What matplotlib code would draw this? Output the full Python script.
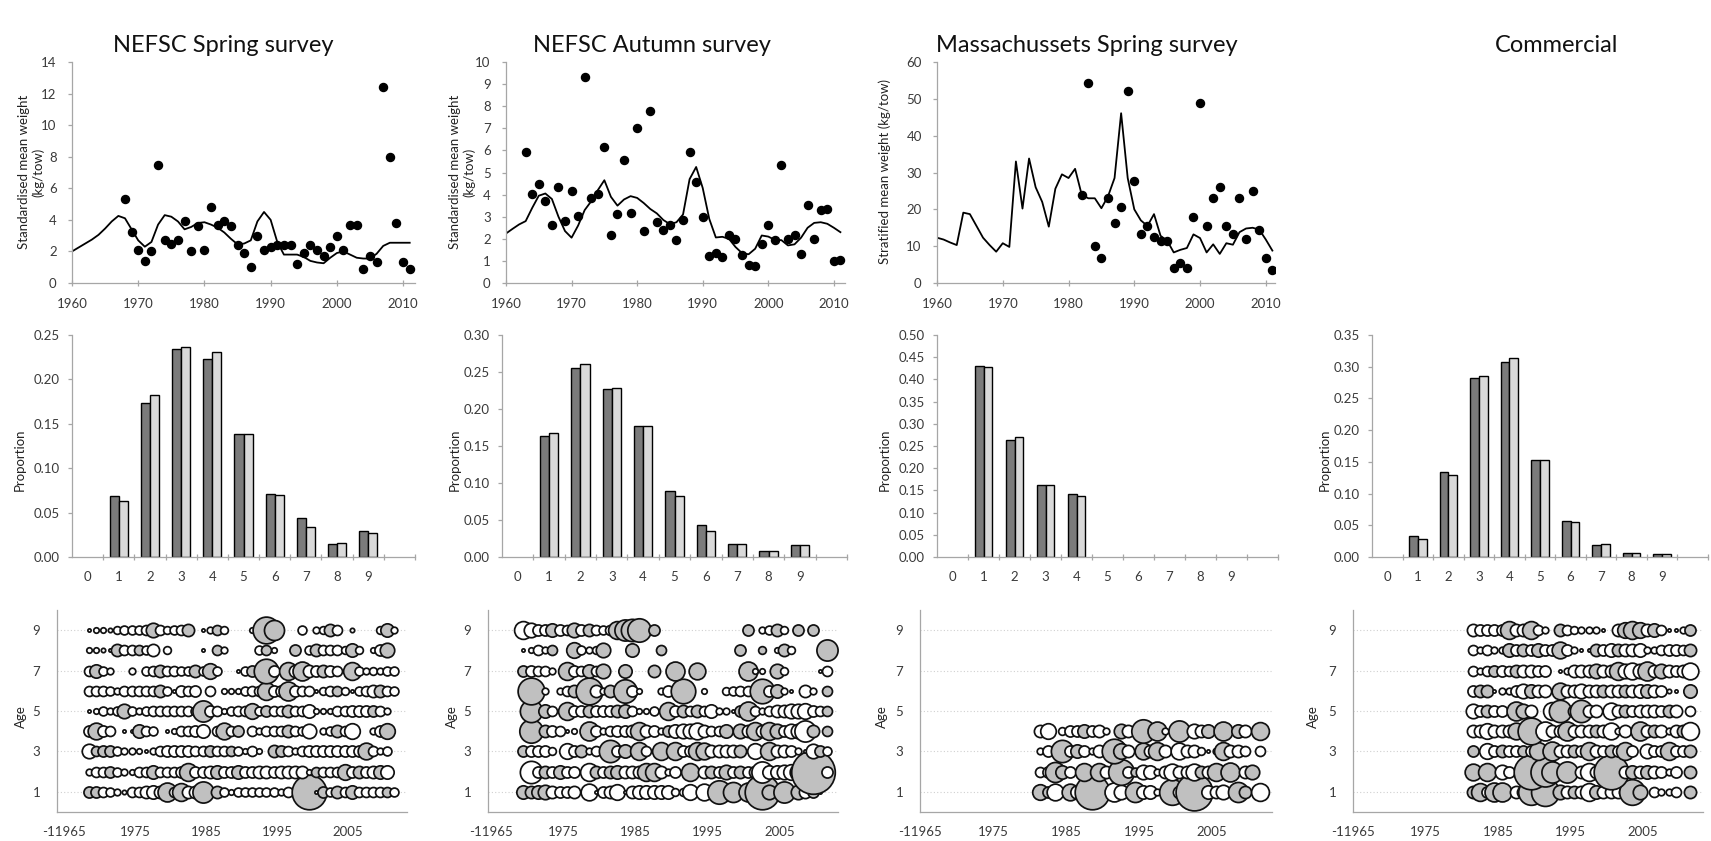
import matplotlib
matplotlib.use("Agg")
import matplotlib.pyplot as plt
import numpy as np

plt.rcParams['font.family'] = ['Lato', 'DejaVu Sans']

# ---------------- DATA ----------------
titles = ["NEFSC Spring survey", "NEFSC Autumn survey", "Massachussets Spring survey", "Commercial"]

line_years = list(range(1960, 2012))
spring_line = [2.0, 2.25, 2.5, 2.75, 3.05, 3.45, 3.9, 4.25, 4.1, 3.4, 2.7, 2.3, 2.6, 3.7, 4.3, 4.2, 3.9, 3.4,
               3.55, 3.8, 3.85, 3.7, 3.5, 3.2, 2.8, 2.45, 2.5, 2.7, 3.9, 4.5, 4.0, 2.6, 1.8, 1.8, 1.8, 1.65,
               1.4, 1.3, 1.25, 1.6, 1.9, 2.0, 1.8, 1.6, 1.55, 1.55, 1.85, 2.35, 2.55, 2.55, 2.55, 2.55]
autumn_line = [2.24, 2.45, 2.65, 2.8, 3.4, 3.95, 4.05, 3.8, 3.0, 2.35, 2.05, 2.6, 3.3, 3.7, 4.2, 4.65, 3.9, 3.5,
               3.78, 3.93, 3.85, 3.62, 3.35, 3.15, 2.85, 2.66, 2.75, 3.1, 4.7, 5.25, 4.3, 2.9, 2.06, 2.09, 2.0,
               1.63, 1.35, 1.3, 1.55, 2.15, 2.1, 1.95, 1.94, 1.7, 1.75, 2.05, 2.5, 2.72, 2.75, 2.68, 2.5, 2.3]
mass_line = [12.3, 11.8, 11.0, 10.3, 19.1, 18.7, 15.5, 12.3, 10.3, 8.5, 10.8, 9.8, 33.0, 20.2, 33.8, 26.0,
             22.0, 15.3, 25.6, 29.5, 28.5, 31.0, 24.0, 23.0, 23.0, 20.3, 23.5, 28.5, 46.1, 28.5, 20.0, 17.0,
             15.5, 18.7, 12.8, 11.5, 8.3, 9.0, 9.5, 13.2, 12.2, 8.3, 10.5, 7.9, 10.8, 10.4, 13.8, 14.8, 15.0,
             14.5, 11.8, 8.8]

spring_pt_years = list(range(1968, 2012))
spring_pts = [5.3, 3.2, 2.1, 1.4, 2.0, 7.5, 2.7, 2.5, 2.7, 3.9, 2.0, 3.6, 2.1, 4.8, 3.7, 3.9, 3.6, 2.4, 1.9,
              1.0, 3.0, 2.1, 2.3, 2.4, 2.4, 2.4, 1.2, 1.9, 2.4, 2.1, 1.7, 2.3, 3.0, 2.1, 3.7, 3.7, 0.9, 1.7,
              1.3, 12.4, 8.0, 3.8, 1.3, 0.9]
autumn_pt_years = list(range(1963, 2012))
autumn_pts = [5.95, 4.02, 4.5, 3.72, 2.62, 4.36, 2.8, 4.17, 3.03, 9.3, 3.83, 4.02, 6.17, 2.15, 3.1, 5.57,
              3.15, 7.0, 2.36, 7.8, 2.77, 2.42, 2.62, 1.94, 2.87, 5.95, 4.55, 3.0, 1.23, 1.36, 1.18, 2.16,
              2.0, 1.26, 0.83, 0.79, 1.78, 2.62, 1.94, 5.34, 1.98, 2.16, 1.3, 3.53, 1.97, 3.3, 3.35, 1.0, 1.03]
mass_pt_years = list(range(1982, 2012))
mass_pts = [24.0, 54.3, 10.1, 6.8, 23.0, 16.4, 20.5, 52.2, 27.7, 13.2, 15.5, 12.5, 11.4, 11.4, 4.1, 5.35,
            4.1, 17.8, 48.8, 15.5, 23.0, 26.1, 15.5, 13.2, 23.1, 11.9, 25.0, 14.3, 6.8, 3.4]

ages = list(range(0, 10))
age_labels = [str(a) for a in ages]
spring_obs = [0, 0.0688, 0.1737, 0.234, 0.2226, 0.1387, 0.0707, 0.0436, 0.015, 0.029]
spring_pred = [0, 0.0635, 0.1823, 0.237, 0.2305, 0.1387, 0.070, 0.0338, 0.0162, 0.0267]
autumn_obs = [0, 0.163, 0.255, 0.227, 0.177, 0.0889, 0.0433, 0.018, 0.0086, 0.0167]
autumn_pred = [0, 0.167, 0.261, 0.229, 0.177, 0.083, 0.035, 0.018, 0.0086, 0.0167]
mass_obs = [0, 0.431, 0.263, 0.162, 0.141, 0, 0, 0, 0, 0]
mass_pred = [0, 0.4286, 0.270, 0.1617, 0.138, 0, 0, 0, 0, 0]
comm_obs = [0, 0.0326, 0.1335, 0.2817, 0.308, 0.1536, 0.0563, 0.019, 0.0065, 0.0047]
comm_pred = [0, 0.0285, 0.129, 0.286, 0.313, 0.1536, 0.055, 0.0207, 0.0065, 0.004]

# bubble residuals: +grey / -white, magnitude = relative bubble diameter; rows = ages 1..9
spring_bub_years = list(range(1968, 2012))
spring_bub = [
    [9, 9, -8, -7, -5, -3, -8, -8, -10, -11, -10, 16, -8, 15, -10, -10, 18, 0, 10, -7, -4, -7, -7, -7, -7, -7, -7, -5, -8, 0, 0, 30, -2, 9, -7, 10, -8, 11, -8, -8, -8, -8, 8, -7],
    [-5, -8, -8, 9, -7, -5, -4, -8, -8, 11, -8, -8, -8, -9, 15, -9, -9, -10, 11, -9, -9, 11, -9, -9, -10, -10, -9, -10, -10, -10, -10, -4, 8, -8, -8, -8, 13, -9, 10, -9, -10, 11, -11, 0],
    [-12, 8, 9, 9, -7, -5, -5, -4, -2, -5, -8, -9, -9, -9, -9, -8, -8, 9, -8, -8, 8, -7, -4, -8, -4, 0, 10, 9, -8, -5, -8, -9, -9, -9, -9, -9, -9, -9, -9, 14, -8, -5, -7, 0],
    [-9, 14, -9, -8, 0, -2, -2, 11, -8, -7, 0, -2, -4, -8, -8, -9, -11, 0, -8, 14, -8, 9, 0, -8, -5, -8, -8, -8, 10, -8, -7, -12, 0, -5, -7, 10, -8, -13, 0, 0, -5, -9, 13, 0],
    [-2, -4, -7, -5, -7, 12, -7, -5, -7, -8, -8, -8, -8, -8, -8, -7, 18, -9, -8, -4, -7, -8, -8, 13, -7, 9, -8, -8, 10, -8, -8, -11, -4, -4, -4, -8, -8, -9, -9, -9, 9, -8, -5, 0],
    [-8, -8, -8, -7, -5, -8, -8, -8, -8, -8, 10, -7, -2, -9, -8, -9, 0, -8, 0, -4, -4, -4, -7, -8, -8, 15, -9, -9, 16, -9, -8, -8, -2, -6, -8, 8, -6, -2, -7, -8, -10, 10, -8, -7],
    [-8, 11, -7, -5, 0, 0, -5, 0, -7, -8, 10, -8, -8, -7, -7, 10, -7, 13, -7, 0, 0, -2, -7, 9, 0, 21, -9, 0, 15, -10, 16, -10, -9, 10, -9, -8, 0, 15, -7, -5, -6, -5, -7, -7],
    [-4, -4, -3, -2, 10, -8, -8, 8, -7, -10, 0, -6, 0, 0, 0, 0, -2, 0, 8, -5, 0, 0, 0, 0, -7, 8, -4, 0, 0, 9, 0, -7, 10, -8, -8, -8, -6, 11, -6, 0, -4, -9, 12, 0],
    [-2, -4, -4, -3, -6, -7, -7, -7, -8, 12, -8, -6, -7, -8, 10, 0, -2, -5, 8, -6, 0, 0, 0, -4, 0, 23, 17, 0, 0, 0, -7, 0, -5, -6, 10, -8, 0, -3, 0, 0, 0, -6, 11, -5],
]
autumn_bub_years = list(range(1969, 2012))
autumn_bub = [
    [11, 10, 11, 12, -10, -9, -9, -10, 0, -14, -2, -9, -10, -13, -2, -10, -11, -11, -11, -11, -11, -6, -6, -13, 0, -14, 0, 20, 0, 17, 0, 16, 0, 30, 12, 0, 18, 0, 12, -10, 9, -2, 0],
    [0, -19, -9, 10, -9, 11, -9, -9, 0, -15, 10, -9, 10, 11, -10, -10, -10, 15, 15, -10, -5, -9, 0, 15, 0, -10, 10, -9, 12, -9, 10, -9, 10, -18, -11, -11, -12, -13, -14, 0, 38, 0, -9],
    [9, -9, -9, -9, -6, 0, -13, -9, 10, -5, -8, 0, 19, -9, 11, 0, 15, -8, 0, 15, 0, 15, -9, -9, 15, 14, -10, -10, -10, -10, 10, 0, -13, 0, 15, -10, -10, -9, -5, -2, -12, 9, -7],
    [0, 20, 0, 10, -9, -8, -2, -4, 0, 16, -9, -5, -8, -9, -9, -10, 15, -10, -9, -5, 9, -11, -12, -12, -14, -10, -8, -8, 11, 0, 12, -10, 15, -10, 15, 12, -9, -12, -12, -18, 10, 0, 8],
    [0, 19, 0, 11, -8, 0, 15, -9, -9, 10, -9, -9, -9, 10, 11, -8, -4, -4, -7, 0, 15, -9, 10, -8, 10, -8, -11, -5, -5, -2, 9, 16, -8, -5, -8, -10, -10, -12, -12, -13, -9, -8, 8],
    [0, 23, 0, -5, 0, -5, -8, 10, 0, 23, -10, -5, 10, 0, 20, -9, -4, 0, 0, -5, -9, 0, 21, 0, 0, -4, 0, 0, -6, -7, -8, -8, 0, 21, -9, 11, -5, -2, 0, -10, -5, 0, 8],
    [9, -9, -8, -8, -5, 0, 15, -9, -8, 11, -8, 12, 0, 0, 11, 0, 0, 0, 10, 0, 0, 16, 0, 0, 14, 0, 0, 0, 0, 0, 0, 16, -4, -4, 0, 12, -6, 0, 0, 0, 0, -2, -8],
    [-2, -4, -8, -5, 8, 0, 0, 13, -7, -5, -6, 12, 0, 0, 0, 11, 0, 0, 0, 8, 0, 0, 0, 0, 0, 0, 0, 0, 0, 0, 9, 0, 0, 6, 0, -4, 10, -6, 0, 0, 0, 0, 18],
    [-15, -12, -9, -9, 11, -9, -8, 12, -9, 10, -8, -7, -8, 15, 18, 19, 20, 0, 9, 0, 0, 0, 0, 0, 0, 0, 0, 0, 0, 0, 0, 9, 0, -5, -7, 10, -6, 0, 9, 0, 9, 0, 0],
]
mass_bub_years = list(range(1981, 2012))
mass_bub = [
    [13, 9, -14, 0, 14, -11, 0, 30, 0, 0, -16, -12, 0, 17, -11, -11, -5, 0, 22, -10, 0, 32, 0, -11, -10, -12, 0, 17, 10, 0, -15],
    [-8, -9, 17, 11, -9, 0, 15, 0, 15, -10, 0, 22, -9, 7, -12, -11, -5, -10, -14, -10, -10, -14, 10, -10, 15, 0, 16, 0, -10, 12, 0],
    [-5, -9, 0, 19, -9, 11, -9, -5, -10, 0, 21, 13, -10, 0, 14, -10, 15, -10, 0, -14, -10, -10, -6, -2, -5, 15, -10, -10, -8, 0, -8],
    [-10, -13, 0, -6, -9, -9, 11, -9, -10, -5, 0, 12, -10, 0, 20, 0, 16, -5, 0, 18, 0, -12, -10, 11, 0, 16, 0, 11, -10, 0, 15],
]
comm_bub_years = list(range(1981, 2012))
comm_bub = [
    [10, 15, -9, 16, 16, 0, -10, -10, 22, -10, 24, 0, 12, -10, 10, -10, -15, 11, -10, -10, -10, -10, 22, 12, 0, -8, -5, -5, -8, 0, 10],
    [14, 0, 15, 0, -12, -9, 0, 0, 30, 0, 25, 18, 0, 18, 0, -10, -15, -10, 0, 30, 0, -10, 11, -10, 11, -10, -9, -5, -9, 0, 10],
    [9, 0, -13, -9, 10, -9, -9, 9, -9, 15, 0, 16, -10, -10, 10, -9, 15, -10, -9, 10, -9, 15, -9, 0, -12, -9, -9, 15, -9, -9, 10],
    [-10, -10, -13, -10, -10, -10, 14, 0, 23, 0, -16, -10, -10, 16, -10, -10, -10, 10, -10, -14, -5, -10, 0, 16, -10, 10, -10, -5, -10, 10, -15],
    [-12, -9, 10, -9, -9, 0, 16, 12, -10, 0, 0, -15, 19, 0, -10, 19, -10, -10, 0, -14, -10, 10, -9, -10, -10, -10, -9, 10, -10, 0, -8],
    [-9, 10, 10, -2, -5, -5, -9, -12, 11, -10, -10, 0, 14, -10, -10, -12, -10, -10, 10, -10, -10, 10, -10, -11, 11, -10, -9, -3, -2, 0, 11],
    [-8, -5, -8, 9, -9, -8, 10, -10, -10, -9, -9, 0, -2, -5, -10, -10, -10, 12, -10, -10, 15, -12, -14, -12, 16, -10, 12, -10, -9, -10, -14],
    [-8, -5, -8, -5, -5, 11, -9, 10, -9, 11, -9, -9, 14, -9, -5, -2, -2, 10, -9, -11, 10, -10, -10, -11, -5, -5, -8, -9, -9, -8, 10],
    [-10, -9, -9, -9, -9, 15, -10, -10, 15, -8, -5, 0, 10, -8, -6, -5, -5, -5, -2, 0, -10, 13, 15, 13, -10, 11, -8, -2, -2, -5, 9],
]
bub_tick_labels = ["-11965", "1975", "1985", "1995", "2005"]

# ---------------- FIGURE ----------------
W, H = 1711, 841
fig = plt.figure(figsize=(W / 100, H / 100), dpi=100)
AX = '#a6a6a6'
TXT = '#3a3a3a'


def add_ax(x0, x1, y0, y1):
    return fig.add_axes([x0 / W, 1 - y1 / H, (x1 - x0) / W, (y1 - y0) / H])


def style(ax):
    for s in ['top', 'right']:
        ax.spines[s].set_visible(False)
    for s in ['left', 'bottom']:
        ax.spines[s].set_color(AX)
        ax.spines[s].set_linewidth(0.9)
    ax.tick_params(which='both', color=AX, labelcolor=TXT, labelsize=9.5, width=0.9)


def ylab(x, y, s):
    fig.text(x / W, 1 - y / H, s, rotation=90, ha='center', va='center', fontsize=9.5, color='#222222',
             linespacing=1.2)


# titles
for x, t in zip([223, 652, 1087, 1557], titles):
    fig.text(x / W, 1 - 45 / H, t, ha='center', va='center', fontsize=17, color='#111111')

# ---- row 1: time series ----
row1 = [
    ((72, 415), 2011.8, spring_line, spring_pt_years, spring_pts, 14, 2, "Standardised mean weight\n(kg/tow)", 31),
    ((506, 845), 2011.7, autumn_line, autumn_pt_years, autumn_pts, 10, 1, "Standardised mean weight\n(kg/tow)", 462),
    ((937, 1275), 2011.4, mass_line, mass_pt_years, mass_pts, 60, 10, "Stratified mean weight (kg/tow)", 885),
]
for (xs, xr, ln, py, pv, ymax, ystep, lab, lx) in row1:
    ax = add_ax(xs[0], xs[1], 62, 283)
    style(ax)
    ax.plot(line_years, ln, color='black', lw=1.3)
    ax.plot(py, pv, 'o', color='black', ms=5.8, mec='black')
    ax.set_xlim(1960, xr)
    ax.set_ylim(0, ymax)
    ax.set_yticks(np.arange(0, ymax + ystep / 2, ystep))
    ax.set_xticks(range(1960, 2011, 10))
    ax.tick_params(axis='x', direction='inout', length=5, pad=8)
    ax.tick_params(axis='y', direction='out', length=3, pad=8)
    ylab(lx, 172, lab)

# ---- row 2: bar charts ----
row2 = [
    ((72, 415), spring_obs, spring_pred, 0.25, 20),
    ((502, 847), autumn_obs, autumn_pred, 0.30, 455),
    ((937, 1278), mass_obs, mass_pred, 0.50, 885),
    ((1372, 1708), comm_obs, comm_pred, 0.35, 1325),
]
bw = 0.29
for (xs, obs, pred, ymax, lx) in row2:
    ax = add_ax(xs[0], xs[1], 335, 557)
    style(ax)
    xi = np.array(ages)
    o = np.array(obs)
    p = np.array(pred)
    m = o > 0
    ax.bar(xi[m] - bw / 2, o[m], width=bw, color='#7b7b7b', edgecolor='black', lw=1.0)
    m2 = p > 0
    ax.bar(xi[m2] + bw / 2, p[m2], width=bw, color='#d9d9d9', edgecolor='black', lw=1.0)
    ax.set_xlim(-0.5, 10.5)
    ax.set_ylim(0, ymax)
    ax.set_yticks(np.arange(0, ymax + 0.001, 0.05))
    ax.set_yticklabels([f"{v:.2f}" for v in np.arange(0, ymax + 0.001, 0.05)])
    ax.set_xticks(ages)
    ax.set_xticklabels(age_labels)
    ax.set_xticks(np.arange(0.5, 10.6, 1.0), minor=True)
    ax.tick_params(axis='x', which='major', length=0, pad=10)
    ax.tick_params(axis='x', which='minor', direction='inout', length=5)
    ax.tick_params(axis='y', direction='out', length=3, pad=6)
    ylab(lx, 460, "Proportion")

# ---- row 3: bubble plots ----
row3 = [
    ((57, 407), (1963.5, 2012.8), spring_bub_years, spring_bub, 21),
    ((488, 838), (1964.1, 2012.5), autumn_bub_years, autumn_bub, 452),
    ((920, 1272), (1964.5, 2012.7), mass_bub_years, mass_bub, 882),
    ((1353, 1703), (1964.6, 2012.75), comm_bub_years, comm_bub, 1313),
]
for (xs, xl, yrs, bub, lx) in row3:
    ax = add_ax(xs[0], xs[1], 610, 812)
    style(ax)
    for a in [1, 3, 5, 7, 9]:
        ax.axhline(a, color='#d0d0d0', lw=0.8, ls=(0, (1, 2)), zorder=0)
    for k, row in enumerate(bub):
        age = k + 1
        for yr, v in zip(yrs, row):
            if v == 0:
                continue
            d = (abs(v) * 1.12 + 1.0) * 0.72
            ax.scatter([yr], [age], s=d * d, facecolor='#c0c0c0' if v > 0 else 'white',
                       edgecolor='#111111', linewidth=1.25, zorder=3)
    ax.set_xlim(*xl)
    ax.set_ylim(0, 10)
    ax.set_yticks([1, 3, 5, 7, 9])
    ax.set_xticks([1964.5, 1974.5, 1984.5, 1994.5, 2004.5])
    ax.set_xticklabels(bub_tick_labels)
    ax.tick_params(axis='x', length=0, pad=10)
    ax.tick_params(axis='y', length=0, pad=12)
    ylab(lx, 717, "Age")

fig.savefig("out.png", dpi=100)
